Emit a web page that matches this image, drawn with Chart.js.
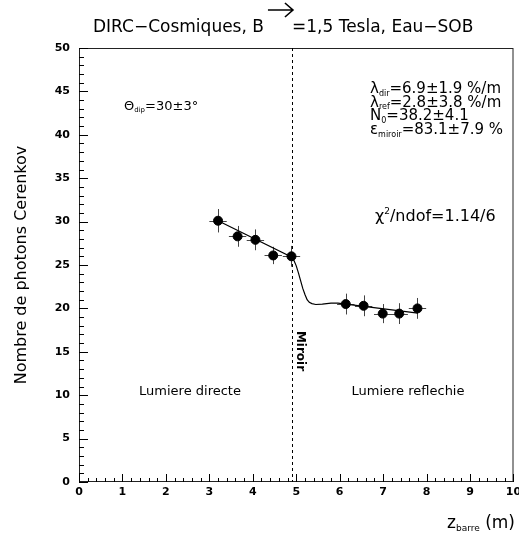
<!DOCTYPE html>
<html lang="fr">
<head>
  <meta charset="UTF-8">
  <title>DIRC-Cosmiques</title>
  <script src="https://cdn.jsdelivr.net/npm/chart.js"></script>
  <style>
    body { margin: 0; background: #fff; }
    #chart { display: block; }
  </style>
</head>
<body>
  <canvas id="chart" width="519" height="537"></canvas>

  <script>
    // mesures (z en m, nombre de photons)
    const zBarre   = [3.2, 3.65, 4.06, 4.47, 4.89, 6.14, 6.55, 6.99, 7.37, 7.79];
    const nPhotons = [30.1, 28.3, 27.9, 26.1, 26.0, 20.5, 20.3, 19.4, 19.4, 20.0];
    const zErr     = [0.2, 0.2, 0.2, 0.2, 0.2, 0.2, 0.2, 0.2, 0.2, 0.2];
    const nErr     = [1.35, 1.2, 1.2, 1.0, 1.2, 1.2, 1.2, 1.1, 1.2, 1.2];

    // courbe d'ajustement
    const fitZ = [3.2, 4.9, 4.95, 5.0, 5.05, 5.1, 5.15, 5.2, 5.25, 5.3, 5.36, 5.45, 5.6, 5.8, 5.96, 7.8];
    const fitN = [30.1, 25.9, 25.5, 24.9, 24.1, 23.2, 22.3, 21.6, 21.0, 20.7, 20.55, 20.45, 20.5, 20.6, 20.6, 19.45];

    const zMiroir = 4.91;
    const xTicks = [0, 1, 2, 3, 4, 5, 6, 7, 8, 9, 10];
    const yTicks = [0, 5, 10, 15, 20, 25, 30, 35, 40, 45, 50];

    const FONT = '"DejaVu Sans", Verdana, sans-serif';

    // texte avec indices / exposants
    function drawRich(ctx, x, y, parts, size, align, subRatio) {
      const r = subRatio || 0.55;
      const fontFor = (kind) => {
        const s = kind ? Math.round(size * r) : size;
        return `${s}px ${FONT}`;
      };
      let total = 0;
      parts.forEach(([t, k]) => { ctx.font = fontFor(k); total += ctx.measureText(t).width; });
      let cx = align === 'center' ? x - total / 2 : align === 'right' ? x - total : x;
      ctx.textBaseline = 'alphabetic';
      ctx.textAlign = 'left';
      parts.forEach(([t, k]) => {
        ctx.font = fontFor(k);
        let dy = 0;
        if (k === 'sub') dy = size * 0.18;
        if (k === 'sup') dy = -size * 0.42;
        ctx.fillText(t, cx, y + dy);
        cx += ctx.measureText(t).width;
      });
    }

    const decorPlugin = {
      id: 'decor',
      beforeDatasetsDraw(chart) {
        const { ctx, chartArea: a, scales: { x, y } } = chart;
        ctx.save();
        // cadre
        ctx.strokeStyle = '#222';
        ctx.lineWidth = 1;
        ctx.strokeRect(a.left + 0.5, a.top + 0.5, a.right - a.left - 1, a.bottom - a.top - 1);

        // graduations internes
        ctx.strokeStyle = '#000';
        ctx.beginPath();
        for (let v = 0; v <= 10.001; v += 0.2) {
          const px = Math.round(x.getPixelForValue(v)) + 0.5;
          const major = Math.abs(v - Math.round(v)) < 1e-6;
          ctx.moveTo(px, a.bottom);
          ctx.lineTo(px, a.bottom - (major ? 8 : 4));
        }
        for (let v = 0; v <= 50.001; v += 1) {
          const py = Math.round(y.getPixelForValue(v)) + 0.5;
          const major = v % 5 === 0;
          ctx.moveTo(a.left, py);
          ctx.lineTo(a.left + (major ? 9 : 5), py);
        }
        ctx.stroke();

        // miroir
        const mx = Math.round(x.getPixelForValue(zMiroir)) + 0.5;
        ctx.setLineDash([3, 3]);
        ctx.beginPath();
        ctx.moveTo(mx, a.top);
        ctx.lineTo(mx, a.bottom);
        ctx.stroke();
        ctx.setLineDash([]);

        // barres d'erreur
        ctx.strokeStyle = '#444';
        ctx.beginPath();
        zBarre.forEach((z, i) => {
          const px = x.getPixelForValue(z), py = y.getPixelForValue(nPhotons[i]);
          ctx.moveTo(x.getPixelForValue(z - zErr[i]), Math.round(py) + 0.5);
          ctx.lineTo(x.getPixelForValue(z + zErr[i]), Math.round(py) + 0.5);
          ctx.moveTo(Math.round(px) + 0.5, y.getPixelForValue(nPhotons[i] - nErr[i]));
          ctx.lineTo(Math.round(px) + 0.5, y.getPixelForValue(nPhotons[i] + nErr[i]));
        });
        ctx.stroke();
        ctx.restore();
      },
      afterDraw(chart) {
        const { ctx, chartArea: a, scales: { x } } = chart;
        ctx.save();
        ctx.fillStyle = '#000';
        ctx.strokeStyle = '#000';

        // titre
        ctx.font = `17px ${FONT}`;
        ctx.textAlign = 'left';
        ctx.textBaseline = 'alphabetic';
        const t1 = 'DIRC\u2212Cosmiques, B';
        ctx.fillText(t1, 93, 32);
        const w1 = ctx.measureText(t1).width;
        ctx.fillText('=1,5 Tesla, Eau\u2212SOB', 93 + w1 + 28, 32);
        // fleche du B
        const ax0 = 93 + w1 + 4, ax1 = ax0 + 25, ay = 10;
        ctx.lineWidth = 1.6;
        ctx.beginPath();
        ctx.moveTo(ax0, ay); ctx.lineTo(ax1, ay);
        ctx.moveTo(ax1 - 8, ay - 7); ctx.lineTo(ax1, ay); ctx.lineTo(ax1 - 8, ay + 7);
        ctx.stroke();

        // titres des axes
        ctx.save();
        ctx.translate(26, (a.top + a.bottom) / 2);
        ctx.rotate(-Math.PI / 2);
        ctx.font = `16px ${FONT}`;
        ctx.textAlign = 'center';
        ctx.fillText('Nombre de photons Cerenkov', 0, 0);
        ctx.restore();
        drawRich(ctx, 515, 528, [['z', ''], ['barre', 'sub'], [' (m)', '']], 17, 'right', 0.5);

        // annotations
        drawRich(ctx, 124, 110, [['\u0398', ''], ['dip', 'sub'], ['=30\u00b13\u00b0', '']], 13, 'left', 0.5);
        const lines = [
          [['\u03bb', ''], ['dir', 'sub'], ['=6.9\u00b11.9 %/m', '']],
          [['\u03bb', ''], ['ref', 'sub'], ['=2.8\u00b13.8 %/m', '']],
          [['N', ''], ['0', 'sub'], ['=38.2\u00b14.1', '']],
          [['\u03b5', ''], ['miroir', 'sub'], ['=83.1\u00b17.9 %', '']]
        ];
        lines.forEach((p, i) => drawRich(ctx, 370, 93 + i * 13.7, p, 15, 'left', 0.5));
        drawRich(ctx, 375, 221, [['\u03c7', ''], ['2', 'sup'], ['/ndof=1.14/6', '']], 16, 'left', 0.55);

        ctx.font = `13px ${FONT}`;
        ctx.textAlign = 'center';
        ctx.fillText('Lumiere directe', 190, 395);
        ctx.fillText('Lumiere reflechie', 408, 395);

        ctx.save();
        ctx.translate(x.getPixelForValue(zMiroir) + 8, 351);
        ctx.rotate(Math.PI / 2);
        ctx.font = `bold 12px ${FONT}`;
        ctx.textAlign = 'center';
        ctx.textBaseline = 'middle';
        ctx.fillText('Miroir', 0, 0);
        ctx.restore();
        ctx.restore();
      }
    };

    const tickFont = { family: FONT, size: 11, weight: 'bold' };

    new Chart(document.getElementById('chart'), {
      type: 'scatter',
      data: {
        datasets: [
          {
            type: 'line',
            data: fitZ.map((z, i) => ({ x: z, y: fitN[i] })),
            borderColor: '#000',
            borderWidth: 1.2,
            pointRadius: 0,
            fill: false,
            tension: 0
          },
          {
            data: zBarre.map((z, i) => ({ x: z, y: nPhotons[i] })),
            backgroundColor: '#000',
            borderColor: '#000',
            pointRadius: 4.5,
            pointHoverRadius: 4.5
          }
        ]
      },
      options: {
        responsive: false,
        animation: false,
        events: [],
        layout: { padding: { top: 48, right: 3, left: 0, bottom: 0 } },
        plugins: { legend: { display: false }, tooltip: { enabled: false } },
        scales: {
          x: {
            type: 'linear', min: 0, max: 10,
            afterBuildTicks: (s) => { s.ticks = xTicks.map(v => ({ value: v })); },
            afterFit: (s) => { s.height = 55; s.paddingLeft = 0; s.paddingRight = 0; },
            grid: { display: false, drawTicks: false },
            border: { display: false },
            ticks: { color: '#000', font: tickFont, padding: 4, maxRotation: 0, autoSkip: false }
          },
          y: {
            type: 'linear', min: 0, max: 50,
            afterBuildTicks: (s) => { s.ticks = yTicks.map(v => ({ value: v })); },
            afterFit: (s) => { s.width = 79; s.paddingTop = 0; s.paddingBottom = 0; },
            grid: { display: false, drawTicks: false },
            border: { display: false },
            ticks: { color: '#000', font: tickFont, padding: 9, autoSkip: false }
          }
        }
      },
      plugins: [decorPlugin]
    });
  </script>
</body>
</html>
